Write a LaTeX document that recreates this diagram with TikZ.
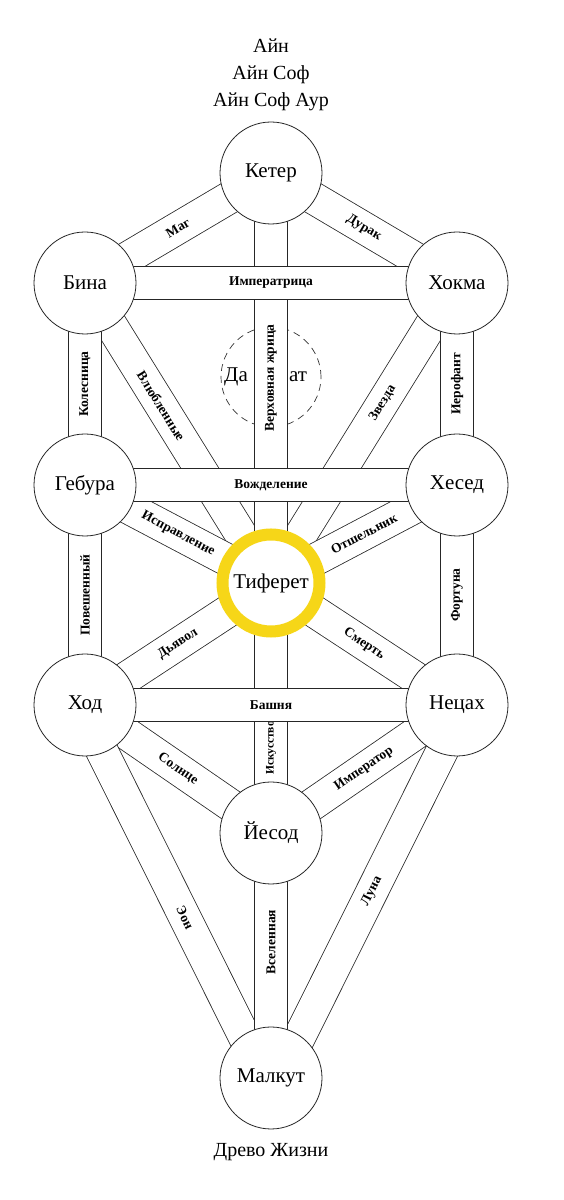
\documentclass[tikz,border=0pt]{standalone}
\usepackage{fontspec}
\setmainfont{Liberation Serif}
\usetikzlibrary{positioning,backgrounds}
\definecolor{tifyellow}{RGB}{246,214,24}

\begin{document}
\begin{tikzpicture}[x=1pt,y=1pt,on grid,
  sefira node/.style={circle,draw=black!85,fill=white,line width=0.8pt,
    minimum size=102pt,inner sep=0pt,font=\fontsize{21}{21}\selectfont},
  tif node/.style={sefira node,draw=tifyellow,line width=12pt,minimum size=97pt},
  daat node/.style={circle,draw=black!80,dash pattern=on 7pt off 5pt,
    line width=0.7pt,minimum size=100pt},
  daat text/.style={font=\fontsize{21}{21}\selectfont},
  title node/.style={align=center,font=\fontsize{20}{27}\selectfont},
  band/.style={draw=black!85,line width=0.8pt,double=white,double distance=31.5pt},
  arcana node/.style={sloped,inner sep=0pt,font=\bfseries\fontsize{13.5}{13.5}\selectfont},
  small arcana/.style={arcana node,font=\bfseries\fontsize{11.5}{11.5}\selectfont}]

  \useasboundingbox (0,0) rectangle (563,1200);

  \node[sefira node] (keter)  at (271,1027)                        {Кетер};
  \node[sefira node] (binah)  [below left=110pt and 186pt of keter]  {Бина};
  \node[sefira node] (hokma)  [below right=110pt and 186pt of keter] {Хокма};
  \node[tif node]    (tif)    [below=410pt of keter]               {Тиферет};
  \node[sefira node] (gebura) [above left=98pt and 186pt of tif]   {Гебура};
  \node[sefira node] (hesed)  [above right=98pt and 186pt of tif]  {Хесед};
  \node[sefira node] (hod)    [below left=122pt and 186pt of tif]  {Ход};
  \node[sefira node] (netzah) [below right=122pt and 186pt of tif] {Нецах};
  \node[sefira node] (yesod)  [below=250pt of tif]                 {Йесод};
  \node[sefira node] (malkut) [below=245pt of yesod]               {Малкут};

  \node[title node] (ain)  [above=98pt of keter] {Айн\\Айн Соф\\Айн Соф Аур};
  \node[title node] (tree) [below=74pt of malkut] {Древо Жизни};

  \begin{pgfonlayer}{background}
    \node[daat node] (daat) [below=204pt of keter] {};

    % diagonal paths
    \draw[band] (binah.center) -- node[arcana node] {Маг} (keter.center);
    \draw[band] (keter.center) -- node[arcana node] {Дурак} (hokma.center);
    \draw[band] (binah.center) -- node[arcana node,pos=0.41] {Влюбленные} (tif.center);
    \draw[band] (hokma.center) -- node[arcana node,pos=0.40] {Звезда} (tif.center);
    \draw[band] (gebura.center) -- node[arcana node] {Исправление} (tif.center);
    \draw[band] (tif.center) -- node[arcana node] {Отшельник} (hesed.center);
    \draw[band] (hod.center) -- node[arcana node] {Дьявол} (tif.center);
    \draw[band] (tif.center) -- node[arcana node] {Смерть} (netzah.center);
    \draw[band] (hod.center) -- node[arcana node] {Солнце} (yesod.center);
    \draw[band] (yesod.center) -- node[arcana node] {Император} (netzah.center);
    \draw[band] ([xshift=-6pt]hod.center) -- node[arcana node,pos=0.57] {Эон} ([xshift=-6pt]malkut.center);
    \draw[band] ([xshift=8pt]malkut.center) -- node[arcana node] {Луна} ([xshift=8pt]netzah.center);

    % vertical paths
    \draw[band] (tif.center) -- node[arcana node] {Верховная жрица} (keter.center);
    \draw[band] (gebura.center) -- node[arcana node] {Колесница} (binah.center);
    \draw[band] (hesed.center) -- node[arcana node] {Иерофант} (hokma.center);
    \draw[band] (hod.center) -- node[arcana node] {Повешенный} (gebura.center);
    \draw[band] (netzah.center) -- node[arcana node] {Фортуна} (hesed.center);
    \draw[band] (yesod.center) -- node[small arcana,pos=0.34] {Искусство} (tif.center);
    \draw[band] (malkut.center) -- node[arcana node,pos=0.555] {Вселенная} (yesod.center);

    % horizontal paths
    \draw[band] (binah.center) -- node[arcana node] {Императрица} (hokma.center);
    \draw[band] (gebura.center) -- node[arcana node] {Вожделение} (hesed.center);
    \draw[band] (hod.center) -- node[arcana node] {Башня} (netzah.center);
  \end{pgfonlayer}

  \node[daat text] (da) [left=35pt of daat]  {Да};
  \node[daat text] (at) [right=27pt of daat] {ат};

\end{tikzpicture}
\end{document}
